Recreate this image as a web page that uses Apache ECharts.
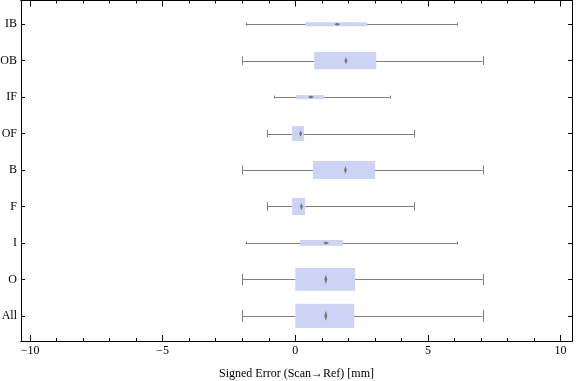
<!DOCTYPE html>
<html><head><meta charset="utf-8">
<script src="https://cdn.jsdelivr.net/npm/echarts@6/dist/echarts.min.js"></script>
<style>html,body{margin:0;padding:0;background:#fff}#c{width:576px;height:381px}</style>
</head><body><div id="c"></div>
<script>
const categories = ['All','O','I','F','B','OF','IF','OB','IB'];
const whiskerLow  = [-2.0, -2.0, -1.87, -1.06, -2.0, -1.06, -0.79, -2.0, -1.87];
const quartile1   = [0.0, 0.0, 0.18, -0.12, 0.67, -0.12, 0.03, 0.71, 0.37];
const medians     = [1.15, 1.15, 1.16, 0.23, 1.89, 0.20, 0.59, 1.91, 1.58];
const quartile3   = [2.22, 2.25, 1.80, 0.37, 3.01, 0.33, 1.08, 3.05, 2.71];
const whiskerHigh = [7.06, 7.06, 6.11, 4.49, 7.06, 4.49, 3.56, 7.06, 6.11];
const relativeCount = [0.66, 0.63, 0.16, 0.47, 0.49, 0.41, 0.11, 0.47, 0.11];
const xMajorTicks = [-10, -5, 0, 5, 10];
const xMinorTicks = [];
for (let v = -10; v <= 10; v++) xMinorTicks.push(v);
const xTitle = 'Signed Error (Scan\u2192Ref) [mm]';

const XMIN = -10.34, XMAX = 10.43, YMIN = -0.69, YMAX = 8.65;
const FONT = 'Liberation Serif';
const catIdx = categories.map((c, i) => i);

const data = categories.map((c, i) => [i, whiskerLow[i], quartile1[i], medians[i], quartile3[i], whiskerHigh[i], relativeCount[i]]);

function renderItem(params, api) {
  const yi = api.value(0);
  const lo = api.coord([api.value(1), yi]);
  const q1 = api.coord([api.value(2), yi]);
  const md = api.coord([api.value(3), yi]);
  const q3 = api.coord([api.value(4), yi]);
  const hi = api.coord([api.value(5), yi]);
  const band = api.size([0, 1])[1];
  const bh = api.value(6) * band;
  const cap = Math.max(3, bh * 0.5);
  const cy = lo[1];
  const ly = Math.round(cy) + 0.5;
  const gray = '#808080';
  let dw, dh;
  if (bh >= 10) { dw = 3; dh = bh * 0.42; } else { dw = 6; dh = 3; }
  return {
    type: 'group',
    children: [
      { type: 'line', shape: { x1: lo[0], y1: ly, x2: hi[0], y2: ly }, style: { stroke: gray, lineWidth: 1 } },
      { type: 'line', shape: { x1: Math.round(lo[0]) + 0.5, y1: cy - cap / 2, x2: Math.round(lo[0]) + 0.5, y2: cy + cap / 2 }, style: { stroke: gray, lineWidth: 1 } },
      { type: 'line', shape: { x1: Math.round(hi[0]) + 0.5, y1: cy - cap / 2, x2: Math.round(hi[0]) + 0.5, y2: cy + cap / 2 }, style: { stroke: gray, lineWidth: 1 } },
      { type: 'rect', shape: { x: q1[0], y: cy - bh / 2, width: q3[0] - q1[0], height: bh }, style: { fill: '#cdd3f5' } },
      { type: 'polygon', shape: { points: [[md[0], cy - dh / 2], [md[0] + dw / 2, cy], [md[0], cy + dh / 2], [md[0] - dw / 2, cy]] }, style: { fill: '#767676' } }
    ]
  };
}

const axisLine = { show: true, onZero: false, lineStyle: { color: '#000', width: 1 } };
function xAx(position, ticks, len, showLabel, extra) {
  return Object.assign({
    type: 'value', position: position, min: XMIN, max: XMAX,
    axisLine: axisLine,
    axisTick: { show: true, inside: true, length: len, customValues: ticks, lineStyle: { color: '#000' } },
    axisLabel: showLabel ? {
      show: true, customValues: xMajorTicks, margin: 4,
      fontFamily: FONT, fontSize: 12, color: '#000',
      formatter: v => (v < 0 ? '\u2212' + Math.abs(v) : String(v))
    } : { show: false },
    splitLine: { show: false }
  }, extra || {});
}
function yAx(position, showLabel) {
  return {
    type: 'value', position: position, min: YMIN, max: YMAX,
    axisLine: axisLine,
    axisTick: { show: true, inside: true, length: 4, customValues: catIdx, lineStyle: { color: '#000' } },
    axisLabel: showLabel ? {
      show: true, customValues: catIdx, margin: 4,
      fontFamily: FONT, fontSize: 12, color: '#000',
      formatter: v => categories[Math.round(v)]
    } : { show: false },
    splitLine: { show: false }
  };
}

const chart = echarts.init(document.getElementById('c'), null, { renderer: 'canvas' });
chart.setOption({
  animation: false,
  backgroundColor: '#fff',
  grid: { left: 21, right: 4, top: 0.5, bottom: 40, outerBoundsMode: 'none', containLabel: false },
  xAxis: [
    xAx('bottom', xMinorTicks, 3, true, { name: xTitle, nameLocation: 'middle', nameGap: 27, nameTextStyle: { fontFamily: FONT, fontSize: 12, color: '#000' } }),
    xAx('bottom', xMajorTicks, 6, false),
    xAx('top', xMinorTicks, 3, false),
    xAx('top', xMajorTicks, 6, false)
  ],
  yAxis: [yAx('left', true), yAx('right', false)],
  series: [{
    type: 'custom',
    renderItem: renderItem,
    xAxisIndex: 0, yAxisIndex: 0,
    encode: { x: [1, 2, 3, 4, 5], y: 0 },
    data: data
  }]
});
</script></body></html>
